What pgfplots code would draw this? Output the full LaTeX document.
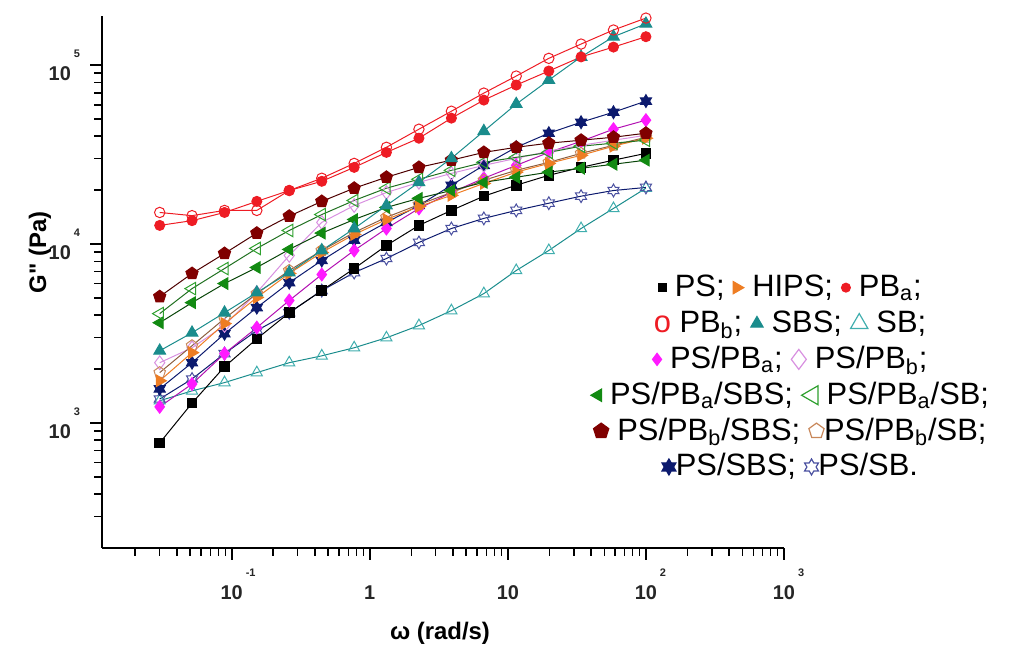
\documentclass[border=0pt]{standalone}
\usepackage{fontspec}
\setmainfont{Liberation Sans}
\newfontfamily\plainsf{Liberation Sans}
\usepackage{pgfplots}
\usepackage{pgfplotstable}
\pgfplotsset{compat=1.18}
\usetikzlibrary{plotmarks}

\definecolor{hipsor}{HTML}{EE7D23}
\definecolor{pbred}{HTML}{EE1C24}
\definecolor{sbsteal}{HTML}{1A8C8C}
\definecolor{sbteal}{HTML}{40AEAE}
\definecolor{psmag}{HTML}{FF1AFF}
\definecolor{psviol}{HTML}{D890E0}
\definecolor{grnf}{HTML}{128A12}
\definecolor{grno}{HTML}{2EA02E}
\definecolor{dred}{HTML}{800000}
\definecolor{tanp}{HTML}{C8875A}
\definecolor{navyst}{HTML}{0C1A6E}
\definecolor{starlav}{HTML}{4A50A0}

% six-pointed star marks
\pgfdeclareplotmark{hexstar}{%
  \pgfpathmoveto{\pgfqpointpolar{90}{\pgfplotmarksize}}%
  \pgfpathlineto{\pgfqpointpolar{120}{0.577\pgfplotmarksize}}%
  \pgfpathlineto{\pgfqpointpolar{150}{\pgfplotmarksize}}%
  \pgfpathlineto{\pgfqpointpolar{180}{0.577\pgfplotmarksize}}%
  \pgfpathlineto{\pgfqpointpolar{210}{\pgfplotmarksize}}%
  \pgfpathlineto{\pgfqpointpolar{240}{0.577\pgfplotmarksize}}%
  \pgfpathlineto{\pgfqpointpolar{270}{\pgfplotmarksize}}%
  \pgfpathlineto{\pgfqpointpolar{300}{0.577\pgfplotmarksize}}%
  \pgfpathlineto{\pgfqpointpolar{330}{\pgfplotmarksize}}%
  \pgfpathlineto{\pgfqpointpolar{0}{0.577\pgfplotmarksize}}%
  \pgfpathlineto{\pgfqpointpolar{30}{\pgfplotmarksize}}%
  \pgfpathlineto{\pgfqpointpolar{60}{0.577\pgfplotmarksize}}%
  \pgfpathclose\pgfusepathqstroke}
\pgfdeclareplotmark{hexstar*}{%
  \pgfpathmoveto{\pgfqpointpolar{90}{\pgfplotmarksize}}%
  \pgfpathlineto{\pgfqpointpolar{120}{0.577\pgfplotmarksize}}%
  \pgfpathlineto{\pgfqpointpolar{150}{\pgfplotmarksize}}%
  \pgfpathlineto{\pgfqpointpolar{180}{0.577\pgfplotmarksize}}%
  \pgfpathlineto{\pgfqpointpolar{210}{\pgfplotmarksize}}%
  \pgfpathlineto{\pgfqpointpolar{240}{0.577\pgfplotmarksize}}%
  \pgfpathlineto{\pgfqpointpolar{270}{\pgfplotmarksize}}%
  \pgfpathlineto{\pgfqpointpolar{300}{0.577\pgfplotmarksize}}%
  \pgfpathlineto{\pgfqpointpolar{330}{\pgfplotmarksize}}%
  \pgfpathlineto{\pgfqpointpolar{0}{0.577\pgfplotmarksize}}%
  \pgfpathlineto{\pgfqpointpolar{30}{\pgfplotmarksize}}%
  \pgfpathlineto{\pgfqpointpolar{60}{0.577\pgfplotmarksize}}%
  \pgfpathclose\pgfusepathqfillstroke}

% legend glyph: draw colour, fill colour, size, mark, rotation
\newcommand{\lm}[5]{\tikz[baseline=-0.55ex]{\pgfsetstrokecolor{#1}\pgfsetfillcolor{#2}\pgfsetlinewidth{0.6pt}\pgfsetplotmarksize{#3}\pgftransformrotate{#5}\pgfuseplotmark{#4}}}
% tick label 10 with raised exponent (empty exponent keeps the same height)
\newcommand{\tl}[1]{10\rlap{\kern1.5pt\raisebox{2.2ex}{\fontsize{5.5}{6}\selectfont\bfseries #1}}}
\newcommand{\tn}[1]{#1\rlap{\kern1.5pt\raisebox{2.2ex}{\fontsize{5.5}{6}\selectfont\bfseries\phantom{0}}}}

\pgfplotstableread{
w      PS    HIPS  PBa    PBb    SBS    SB    PSPBa PSPBb PSPBaSBS PSPBaSB PSPBbSBS PSPBbSB PSSBS PSSB
0.0301 773   1720  12700  15000  2530   1330  1230  2170  3630     4080    5080     1910    1550  1360
0.0516 1290  2470  13500  14400  3190   1510  1650  2630  4700     5630    6840     2700    2170  1760
0.0887 2060  3590  15000  15400  4130   1680  2440  3500  6010     7290    8850     3830    3150  2440
0.152  2950  5020  17300  15400  5350   1910  3410  5350  7390     9440    11500    5280    4410  3280
0.261  4130  6840  19900  19900  6920   2170  4830  8620  9320     11900   14300    7110    6080  4130
0.449  5490  8960  22400  23300  9200   2370  6750  13200 11500    14600   17300    9200    8080  5490
0.771  7290  11300 26800  28200  12200  2630  9200  16400 13700    17500   20500    11600   10500 6920
1.32   9810  13700 32500  34700  16400  2990  12200 19400 16000    20500   23600    14100   13200 8290
2.27   12700 16200 39000  43800  22100  3500  15800 22100 18000    23000   26800    16600   16400 10200
3.90   15400 18700 50500  55200  30100  4240  19400 24800 19900    25800   29400    19400   21300 12200
6.70   18500 21800 63700  69700  42700  5280  23300 27500 22100    28600   32500    22700   27500 13900
11.5   21300 25200 77300  86800  60500  7110  27500 30100 23600    30500   34700    25800   34700 15400
19.8   24200 28200 92600  109000 82400  9200  32500 33000 25200    32500   36600    28600   41600 16900
33.9   26800 31300 111000 131000 111000 12200 37500 35600 26500    35200   38000    32100   47900 18500
58.2   29400 35200 126000 157000 144000 15800 43800 38000 27900    36600   39500    35600   54500 19900
100    32100 39000 144000 183000 170000 20500 49200 40500 29400    38000   41600    39500   62900 20700
}\datatable

\begin{document}
\begin{tikzpicture}
\begin{axis}[
  scale only axis, width=341bp, height=266bp,
  xmode=log, ymode=log,
  xmin=0.0115, xmax=1000, ymin=200, ymax=1.88e5,
  axis lines=left,
  axis line style={line width=1pt, -},
  tick align=outside,
  major tick length=6bp, minor tick length=4bp,
  tick style={line width=0.8pt, black},
  xtick={0.1,1,10,100,1000},
  xticklabels={\tl{-1},\tn{1},\tn{10},\tl{2},\tl{3}},
  ytick={1000,10000,100000},
  yticklabels={\tl{3},\tl{4},\tl{5}},
  minor xtick={0.02,0.03,0.04,0.05,0.06,0.07,0.08,0.09,0.2,0.3,0.4,0.5,0.6,0.7,0.8,0.9,2,3,4,5,6,7,8,9,20,30,40,50,60,70,80,90,200,300,400,500,600,700,800,900},
  minor ytick={300,400,500,600,700,800,900,2000,3000,4000,5000,6000,7000,8000,9000,20000,30000,40000,50000,60000,70000,80000,90000},
  tick label style={font=\fontsize{10}{11}\selectfont\bfseries, text=black!85},
  xticklabel style={yshift=-1bp},
  yticklabel style={xshift=-6bp},
  xlabel={ω (rad/s)},
  ylabel={\plainsf\bfseries G" (Pa)},
  label style={font=\fontsize{12}{14}\selectfont\bfseries},
  xlabel style={at={(axis description cs:0.4956,-0.1598)}, anchor=center},
  ylabel style={at={(axis description cs:-0.0909,0.556)}, anchor=center},
  clip=false,
  line width=0.5pt,
]
\path (rel axis cs:-0.1496,-0.1861) rectangle (rel axis cs:1.3358,1.0301);

\addplot[color=sbsteal, mark=triangle, mark size=3.2bp, mark options={solid, draw=sbteal}] table[x=w,y=SB]{\datatable};
\addplot[color=navyst, mark=hexstar, mark size=3.2bp, mark options={solid, draw=starlav}] table[x=w,y=PSSB]{\datatable};
\addplot[color=navyst, mark=hexstar*, mark size=3.2bp, mark options={solid, draw=navyst, fill=navyst}] table[x=w,y=PSSBS]{\datatable};
\addplot[color=black, mark=square*, mark size=2.4bp, mark options={solid, fill=black}] table[x=w,y=PS]{\datatable};
\addplot[color=psmag!70!black, mark=diamond*, mark size=3.2bp, mark options={solid, draw=psmag, fill=psmag}] table[x=w,y=PSPBa]{\datatable};
\addplot[color=psviol, mark=diamond, mark size=3.4bp, mark options={solid, draw=psviol}] table[x=w,y=PSPBb]{\datatable};
\addplot[color=tanp!70!black, mark=pentagon, mark size=3bp, mark options={solid, draw=tanp}] table[x=w,y=PSPBbSB]{\datatable};
\addplot[color=hipsor, mark=triangle*, mark size=3.3bp, mark options={solid, rotate=-90, draw=hipsor, fill=hipsor}] table[x=w,y=HIPS]{\datatable};
\addplot[color=grnf!50!black, mark=triangle*, mark size=3.3bp, mark options={solid, rotate=90, draw=grnf, fill=grnf}] table[x=w,y=PSPBaSBS]{\datatable};
\addplot[color=grno!70!black, mark=triangle, mark size=3.6bp, mark options={solid, rotate=90, draw=grno}] table[x=w,y=PSPBaSB]{\datatable};
\addplot[color=dred!60!black, mark=pentagon*, mark size=3.2bp, mark options={solid, draw=dred, fill=dred}] table[x=w,y=PSPBbSBS]{\datatable};
\addplot[color=sbsteal, mark=triangle*, mark size=3.4bp, mark options={solid, draw=sbsteal, fill=sbsteal}] table[x=w,y=SBS]{\datatable};
\addplot[color=pbred, mark=*, mark size=2.5bp, mark options={solid, draw=pbred, fill=pbred}] table[x=w,y=PBa]{\datatable};
\addplot[color=pbred, mark=o, mark size=2.6bp, mark options={solid, draw=pbred, fill=white}] table[x=w,y=PBb]{\datatable};

\node[align=center, inner sep=0pt, font=\fontsize{15.5}{18}\selectfont] at (rel axis cs:1.0088,0.3205) {%
\lm{black}{black}{2bp}{square*}{0}~PS; \lm{hipsor}{hipsor}{3.5bp}{triangle*}{-90}~HIPS; \lm{pbred}{pbred}{2.2bp}{*}{0}~PB\textsubscript{a};\\
{\color{pbred}o}~PB\textsubscript{b}; \lm{sbsteal}{sbsteal}{3.5bp}{triangle*}{0}~SBS; \lm{sbteal}{white}{5bp}{triangle}{0}~SB;\\
\lm{psmag}{psmag}{3bp}{diamond*}{0}~PS/PB\textsubscript{a}; \lm{psviol}{white}{5bp}{diamond}{0}~PS/PB\textsubscript{b};\\
\lm{grnf}{grnf}{3.5bp}{triangle*}{90}~PS/PB\textsubscript{a}/SBS; \lm{grno}{white}{5.5bp}{triangle}{90}~PS/PB\textsubscript{a}/SB;\\
\lm{dred}{dred}{4bp}{pentagon*}{0}~PS/PB\textsubscript{b}/SBS; \lm{tanp}{white}{4bp}{pentagon}{0}PS/PB\textsubscript{b}/SB;\\
\lm{navyst}{navyst}{4bp}{hexstar*}{0}PS/SBS; \lm{starlav}{white}{4bp}{hexstar}{0}PS/SB.};
\end{axis}
\end{tikzpicture}
\end{document}
